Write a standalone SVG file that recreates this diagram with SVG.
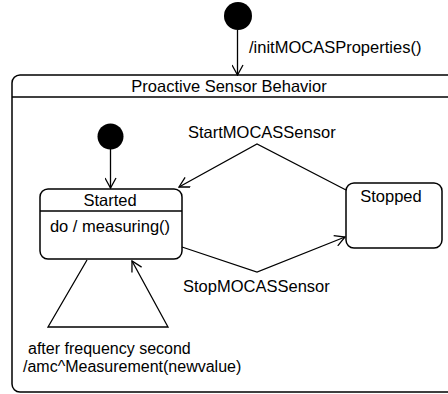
<svg xmlns="http://www.w3.org/2000/svg" width="448" height="394" viewBox="0 0 448 394">
<defs>
<style>
text{font-family:"Liberation Sans",Arial,sans-serif;font-size:16.5px;fill:#000}
.sm{font-size:16px}
.ln{fill:none;stroke:#000;stroke-width:1.3}
.box{fill:#fff;stroke:#000;stroke-width:1.5}
.init{fill:#000}
</style>
<marker id="open" viewBox="0 0 12 12" refX="11" refY="6" markerWidth="12" markerHeight="12" markerUnits="userSpaceOnUse" orient="auto">
<path d="M1,0.5 L11,6 L1,11.5" fill="none" stroke="#000" stroke-width="1.3"/>
</marker>
</defs>
<rect width="448" height="394" fill="#fff"/>
<g id="proactive-sensor-behavior">
<rect class="box" x="12" y="75" width="450" height="317" rx="8"/>
<line class="ln" x1="12" y1="97" x2="448" y2="97"/>
<text x="229" y="92" text-anchor="middle">Proactive Sensor Behavior</text>
</g>
<g id="top-initial">
<circle class="init" cx="238" cy="16" r="14"/>
</g>
<g id="inner-initial">
<circle class="init" cx="110.5" cy="136.5" r="13"/>
</g>
<g id="started">
<rect class="box" x="40" y="189" width="142" height="70" rx="8"/>
<line class="ln" x1="40" y1="211" x2="182" y2="211"/>
<text x="110" y="206" text-anchor="middle">Started</text>
<text x="110" y="232" text-anchor="middle">do / measuring()</text>
</g>
<g id="stopped">
<rect class="box" x="346" y="183" width="96" height="65" rx="8"/>
<text x="391" y="202" text-anchor="middle">Stopped</text>
</g>
<g id="connectors">
<line class="ln" x1="237.5" y1="30" x2="237.5" y2="75" marker-end="url(#open)"/>
<line class="ln" x1="110.5" y1="149" x2="110.5" y2="188" marker-end="url(#open)"/>
<polyline class="ln" points="346,190 257,144 179,187" marker-end="url(#open)"/>
<polyline class="ln" points="182,247 257,272 345,237" marker-end="url(#open)"/>
<polyline class="ln" points="87,260 48,327 168,327 132,261" marker-end="url(#open)"/>
</g>
<g id="labels">
<text x="249" y="53">/initMOCASProperties()</text>
<text x="188" y="138">StartMOCASSensor</text>
<text x="183" y="292">StopMOCASSensor</text>
<text class="sm" x="28" y="354">after frequency second</text>
<text class="sm" x="23" y="372">/amc^Measurement(newvalue)</text>
</g>
</svg>
